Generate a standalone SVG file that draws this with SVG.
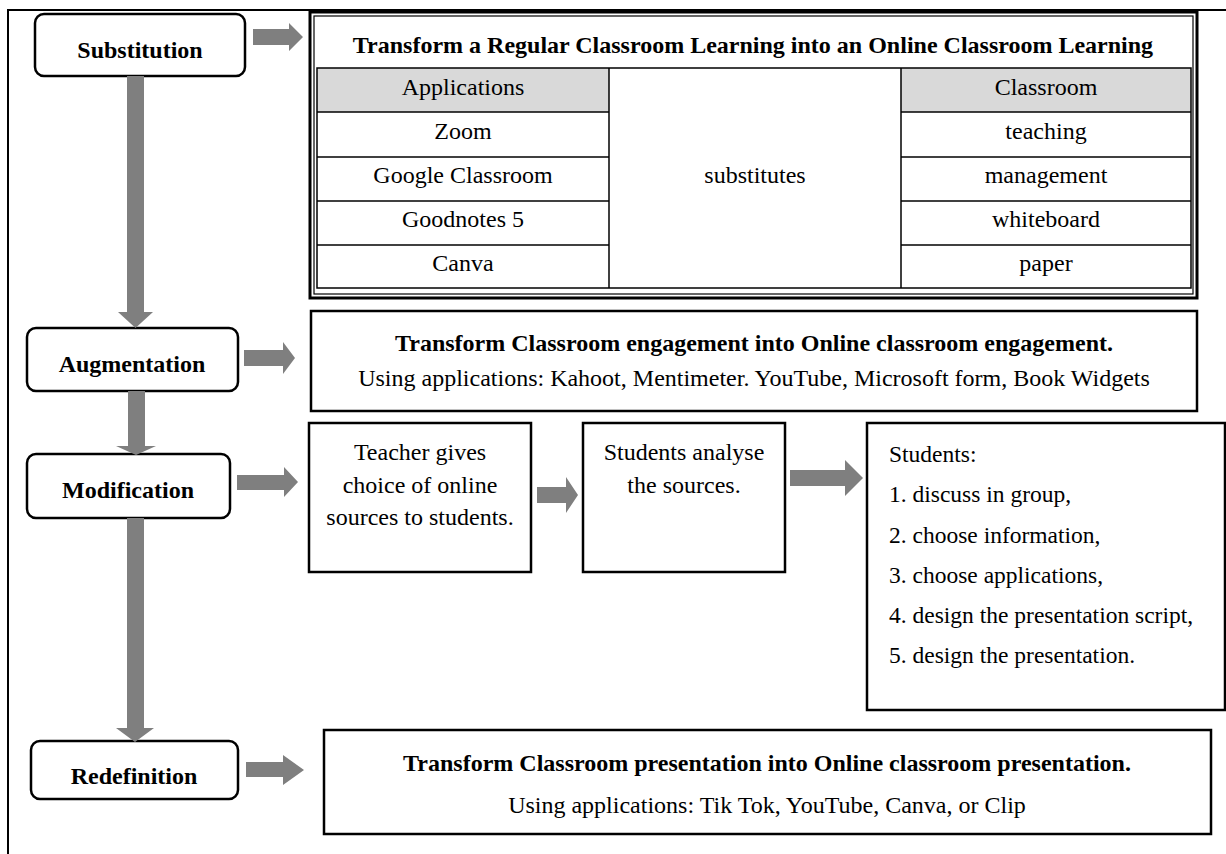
<svg xmlns="http://www.w3.org/2000/svg" width="1226" height="854" viewBox="0 0 1226 854">
<style>
  .node{fill:#fff;stroke:#000;stroke-width:2.5}
  .box{fill:#fff;stroke:#000;stroke-width:2.5}
  .thin{fill:none;stroke:#000;stroke-width:1.2}
  .cell{stroke:#000;stroke-width:1.5}
  .hdr{fill:#d9d9d9}
  .arr{fill:#7f7f7f;stroke:none}
  .b{font-family:"Liberation Serif","Times New Roman",serif;font-weight:bold;font-size:24px;fill:#000;text-anchor:middle}
  .r{font-family:"Liberation Serif","Times New Roman",serif;font-size:24px;fill:#000;text-anchor:middle}
  .l{font-family:"Liberation Serif","Times New Roman",serif;font-size:23.5px;fill:#000;text-anchor:start}
</style>
<rect width="1226" height="854" fill="#fff"/>
<g id="frame">
  <polyline points="8,854 8,10 1226,10" fill="none" stroke="#000" stroke-width="2"/>
</g>
<g id="substitution">
  <rect class="node" x="35" y="14" width="210" height="62" rx="9"/>
  <text class="b" x="140" y="58">Substitution</text>
</g>
<g id="augmentation">
  <rect class="node" x="27" y="328" width="211" height="63" rx="9"/>
  <text class="b" x="132" y="372">Augmentation</text>
</g>
<g id="modification">
  <rect class="node" x="27" y="454" width="203" height="64" rx="9"/>
  <text class="b" x="128" y="498">Modification</text>
</g>
<g id="redefinition">
  <rect class="node" x="31" y="741" width="207" height="58" rx="9"/>
  <text class="b" x="134" y="784">Redefinition</text>
</g>
<g id="substitution-detail">
  <rect x="310" y="12" width="887" height="286" fill="#fff" stroke="#000" stroke-width="3"/>
  <rect class="thin" x="314" y="16" width="879" height="278"/>
  <text class="b" x="753" y="53">Transform a Regular Classroom Learning into an Online Classroom Learning</text>
  <rect class="hdr" x="317" y="68" width="292" height="44"/>
  <rect class="hdr" x="901" y="68" width="290" height="44"/>
  <g class="cell">
    <rect x="317" y="68" width="874" height="220" fill="none"/>
    <line x1="609" y1="68" x2="609" y2="288"/>
    <line x1="901" y1="68" x2="901" y2="288"/>
    <line x1="317" y1="112" x2="609" y2="112"/>
    <line x1="317" y1="157" x2="609" y2="157"/>
    <line x1="317" y1="201" x2="609" y2="201"/>
    <line x1="317" y1="245" x2="609" y2="245"/>
    <line x1="901" y1="112" x2="1191" y2="112"/>
    <line x1="901" y1="157" x2="1191" y2="157"/>
    <line x1="901" y1="201" x2="1191" y2="201"/>
    <line x1="901" y1="245" x2="1191" y2="245"/>
  </g>
  <text class="r" x="463" y="95">Applications</text>
  <text class="r" x="463" y="139">Zoom</text>
  <text class="r" x="463" y="183">Google Classroom</text>
  <text class="r" x="463" y="227">Goodnotes 5</text>
  <text class="r" x="463" y="271">Canva</text>
  <text class="r" x="755" y="183">substitutes</text>
  <text class="r" x="1046" y="95">Classroom</text>
  <text class="r" x="1046" y="139">teaching</text>
  <text class="r" x="1046" y="183">management</text>
  <text class="r" x="1046" y="227">whiteboard</text>
  <text class="r" x="1046" y="271">paper</text>
</g>
<g id="augmentation-detail">
  <rect class="box" x="311" y="311" width="886" height="100"/>
  <text class="b" x="754" y="351">Transform Classroom engagement into Online classroom engagement.</text>
  <text class="r" x="754" y="386">Using applications: Kahoot, Mentimeter. YouTube, Microsoft form, Book Widgets</text>
</g>
<g id="teacher-gives">
  <rect class="box" x="309" y="423" width="222" height="149"/>
  <text class="r" x="420" y="460">Teacher gives</text>
  <text class="r" x="420" y="493">choice of online</text>
  <text class="r" x="420" y="525">sources to students.</text>
</g>
<g id="students-analyse">
  <rect class="box" x="583" y="423" width="202" height="149"/>
  <text class="r" x="684" y="460">Students analyse</text>
  <text class="r" x="684" y="493">the sources.</text>
</g>
<g id="students-steps">
  <rect class="box" x="867" y="423" width="358" height="287"/>
  <text class="l" x="889" y="462">Students:</text>
  <text class="l" x="889" y="502">1. discuss in group,</text>
  <text class="l" x="889" y="543">2. choose information,</text>
  <text class="l" x="889" y="583">3. choose applications,</text>
  <text class="l" x="889" y="623">4. design the presentation script,</text>
  <text class="l" x="889" y="663">5. design the presentation.</text>
</g>
<g id="redefinition-detail">
  <rect class="box" x="324" y="730" width="887" height="104"/>
  <text class="b" x="767" y="771">Transform Classroom presentation into Online classroom presentation.</text>
  <text class="r" x="767" y="813">Using applications: Tik Tok, YouTube, Canva, or Clip</text>
</g>
<g id="connectors">
  <polygon class="arr" points="253,29 289,29 289,23 303,37 289,51 289,45 253,45"/>
  <polygon class="arr" points="127,76 144,76 144,312 153,312 135.5,328 118,312 127,312"/>
  <polygon class="arr" points="244,350 283,350 283,342 295,358 283,374 283,366 244,366"/>
  <polygon class="arr" points="128,391 145,391 145,446 156,446 136,455 116,446 128,446"/>
  <polygon class="arr" points="237,475 284,475 284,467 298,482 284,497 284,490 237,490"/>
  <polygon class="arr" points="127,518 144,518 144,728 154,728 135,742 116,728 127,728"/>
  <polygon class="arr" points="246,762 283,762 283,755 304,770 283,785 283,777 246,777"/>
  <polygon class="arr" points="537,487 566,487 566,477 578,495 566,513 566,503 537,503"/>
  <polygon class="arr" points="790,470 845,470 845,460 863,478 845,496 845,486 790,486"/>
</g>
</svg>
